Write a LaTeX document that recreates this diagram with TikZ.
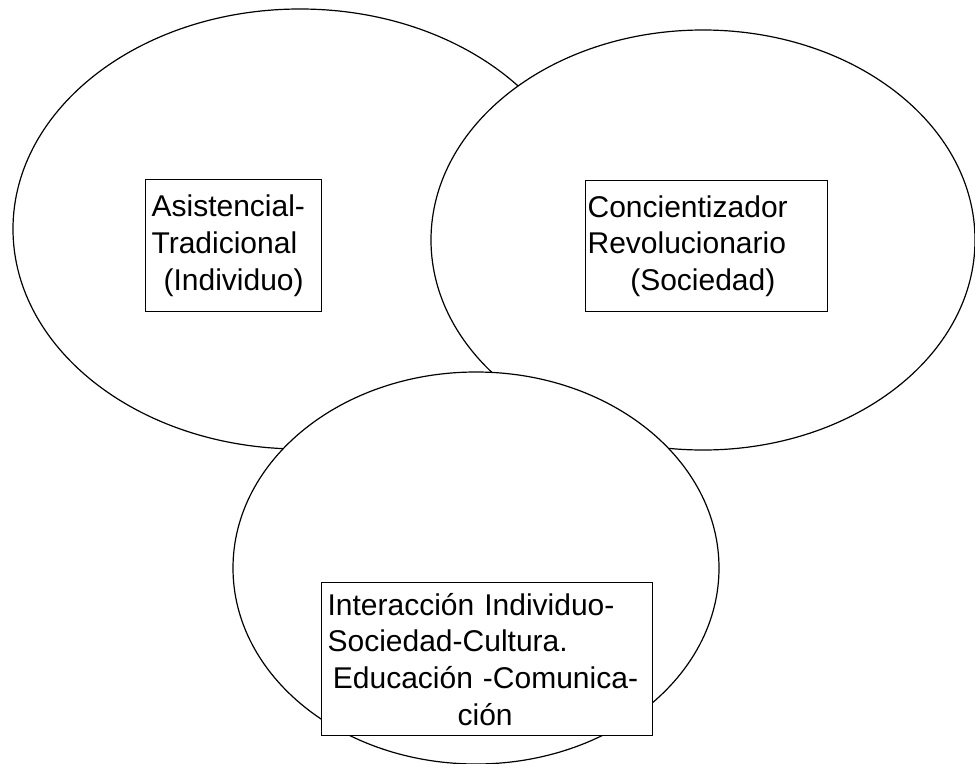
\documentclass[tikz,border=0pt]{standalone}
\usepackage{fontspec}
\setmainfont{Liberation Sans}
\usetikzlibrary{shapes.geometric}

\begin{document}
\begin{tikzpicture}[x=0.75pt, y=-0.75pt,
    zona/.style={ellipse, draw, line width=0.9pt, fill=white, inner sep=0pt},
    caja/.style={rectangle, draw, line width=0.9pt, fill=white, anchor=north west, align=left, font=\fontsize{22.5}{27.5}\selectfont}]

    \useasboundingbox (0, 0) rectangle (975, 764);

    \node[zona, minimum width=430.5pt, minimum height=330pt] (izq) at (300, 229) {};
    \node[zona, minimum width=408pt, minimum height=315pt] (der) at (703, 240) {};
    \node[zona, minimum width=364.5pt, minimum height=294pt] (inf) at (476, 568) {};

    \node[caja, minimum width=132pt, minimum height=99pt, text width=123pt, inner xsep=4.5pt] (a) at (145, 179) {Asistencial-\\Tradicional\\\hspace*{9pt}(Individuo)};
    \node[caja, minimum width=181.5pt, minimum height=98.25pt, text width=178.5pt, inner xsep=1.5pt] (b) at (585, 180) {Concientizador\\Revolucionario\\\hspace*{32pt}(Sociedad)};
    \node[caja, minimum width=248.25pt, minimum height=114.75pt, text width=239.25pt, inner xsep=4.5pt] (c) at (321, 582) {Interacción Individuo-\\Sociedad-Cultura.\\\hspace*{4pt}Educación -Comunica-\\\hspace*{97.5pt}ción};

\end{tikzpicture}
\end{document}
